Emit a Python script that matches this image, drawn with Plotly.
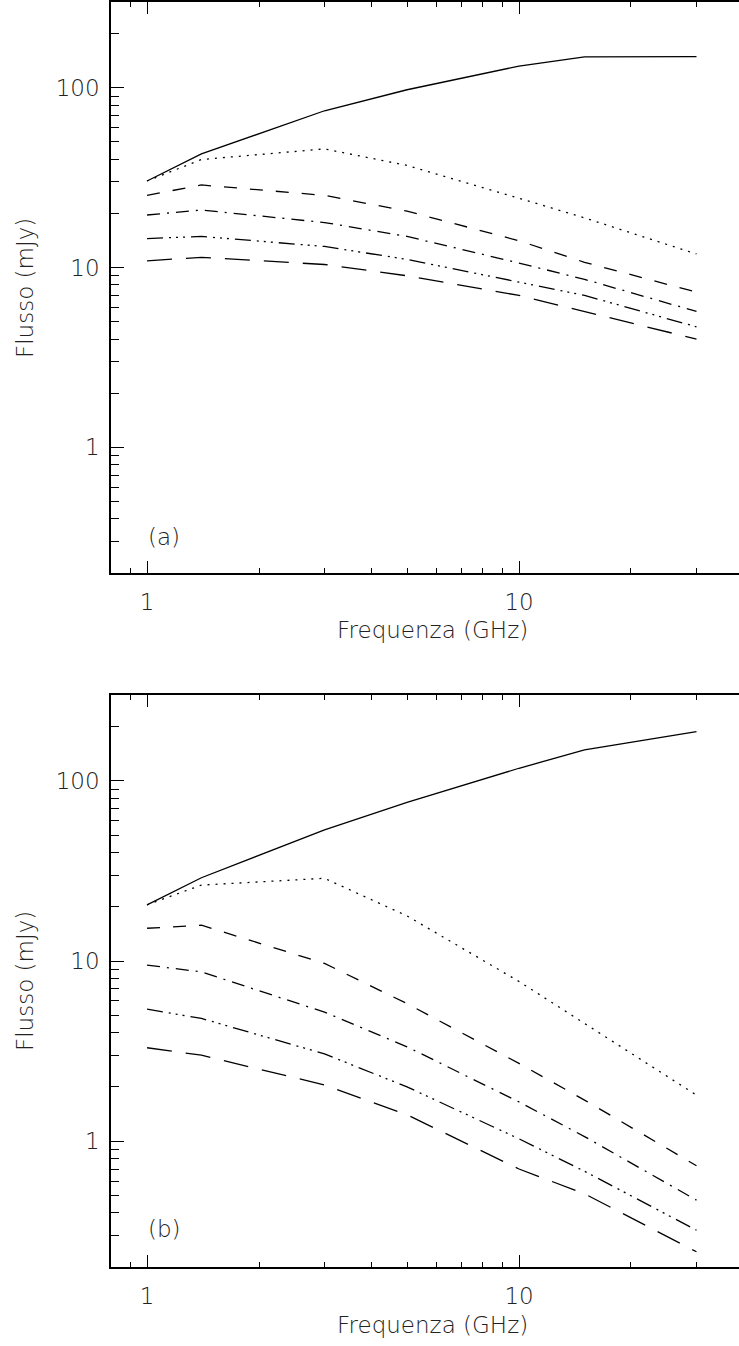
import plotly.graph_objects as go
import math

# ---- data ----
freq = [1, 1.4, 3, 5, 10, 15, 30]

a_solid   = [30.3, 42.9, 74.5, 97.5, 132, 148.5, 149]
a_dot     = [30.3, 39.9, 45.7, 37.0, 24.3, 18.9, 11.9]
a_dash    = [25.2, 28.8, 25.2, 20.6, 14.1, 10.7, 7.3]
a_dashdot = [19.6, 20.9, 17.8, 14.9, 10.6, 8.6, 5.7]
a_dash3d  = [14.5, 14.9, 13.1, 11.1, 8.3, 7.0, 4.68]
a_long    = [10.9, 11.4, 10.4, 9.0, 7.0, 5.7, 4.0]

b_solid   = [20.5, 29.0, 53.5, 76.0, 117.6, 148.6, 188]
b_dot     = [20.5, 26.4, 28.8, 17.8, 7.7, 4.5, 1.80]
b_dash    = [15.2, 15.8, 9.7, 5.8, 2.7, 1.69, 0.73]
b_dashdot = [9.5, 8.7, 5.2, 3.34, 1.65, 1.06, 0.47]
b_dash3d  = [5.4, 4.8, 3.05, 2.0, 1.03, 0.68, 0.32]
b_long    = [3.3, 3.0, 2.05, 1.40, 0.70, 0.51, 0.243]

x_major = [1, 10]
x_major_text = ["1", "10"]
x_minor = [0.9, 2, 3, 4, 5, 6, 7, 8, 9, 20, 30]
y_major = [1, 10, 100]
y_major_text = ["1", "10", "100"]
y_minor = [0.2, 0.3, 0.4, 0.5, 0.6, 0.7, 0.8, 0.9,
           2, 3, 4, 5, 6, 7, 8, 9,
           20, 30, 40, 50, 60, 70, 80, 90, 200]

x_title = "Frequenza (GHz)"
y_title = "Flusso (mJy)"
panel_labels = ["(a)", "(b)"]

# ---- style ----
W, H = 739, 1346
FONT = dict(family="DejaVu Sans, sans-serif", size=23, color="#222222", weight=200)
LW = 1.3
dashes = ["solid", "2px,6px", "13px,13px", "13px,7px,2px,7px",
          "16px,6px,2px,5px,2px,5px,2px,6px", "25px,14px"]

def px_x(p):
    return p / W

def px_y(p):
    return 1 - p / H

fig = go.Figure()

panels = [
    (dict(xa="x", ya="y"), [a_solid, a_dot, a_dash, a_dashdot, a_dash3d, a_long]),
    (dict(xa="x2", ya="y2"), [b_solid, b_dot, b_dash, b_dashdot, b_dash3d, b_long]),
]
for ax, series in panels:
    for s, d in zip(series, dashes):
        fig.add_trace(go.Scatter(x=freq, y=s, mode="lines", xaxis=ax["xa"], yaxis=ax["ya"],
                                 line=dict(color="black", width=LW, dash=d),
                                 showlegend=False, hoverinfo="skip"))

xrange = [math.log10(0.8), (739 - 147) / 372]
yrange = [math.log10(0.2), math.log10(300)]
xdom = [px_x(111), 1]
ydoms = [[px_y(573), px_y(2)], [px_y(1267), px_y(695)]]

def xaxis_cfg(anchor):
    return dict(type="log", range=xrange, domain=xdom, anchor=anchor,
                showgrid=False, zeroline=False,
                showline=True, linecolor="black", linewidth=1.5, mirror="ticks",
                ticks="inside", ticklen=12, tickwidth=1.3, tickcolor="black",
                tickmode="array", tickvals=x_major, ticktext=x_major_text,
                ticklabelstandoff=8, tickfont=FONT,
                minor=dict(tickmode="array", tickvals=x_minor, ticks="inside",
                           ticklen=5, tickwidth=1.2, tickcolor="black", showgrid=False))

def yaxis_cfg(anchor, dom):
    return dict(type="log", range=yrange, domain=dom, anchor=anchor,
                showgrid=False, zeroline=False,
                showline=True, linecolor="black", linewidth=1.5,
                ticks="inside", ticklen=13, tickwidth=1.3, tickcolor="black",
                tickmode="array", tickvals=y_major, ticktext=y_major_text,
                ticklabelstandoff=5, tickfont=FONT,
                minor=dict(tickmode="array", tickvals=y_minor, ticks="inside",
                           ticklen=8, tickwidth=1.2, tickcolor="black", showgrid=False))

def yright_cfg(anchor, overlay, dom):
    return dict(type="log", range=yrange, domain=dom, anchor=anchor, overlaying=overlay,
                side="right", showgrid=False, zeroline=False, showline=False,
                ticks="inside", ticklen=8, tickwidth=1.3, tickcolor="black",
                tickmode="array", tickvals=y_major, showticklabels=False,
                minor=dict(tickmode="array", tickvals=y_minor, ticks="inside",
                           ticklen=3, tickwidth=1.2, tickcolor="black", showgrid=False))

fig.update_layout(
    width=W, height=H,
    margin=dict(l=0, r=0, t=0, b=0),
    paper_bgcolor="white", plot_bgcolor="white",
    font=FONT,
    xaxis=xaxis_cfg("y"),
    yaxis=yaxis_cfg("x", ydoms[0]),
    xaxis2=xaxis_cfg("y2"),
    yaxis2=yaxis_cfg("x2", ydoms[1]),
    yaxis3=yright_cfg("x", "y", ydoms[0]),
    yaxis4=yright_cfg("x2", "y2", ydoms[1]),
)

annots = []
for i, (ytit, xtit, lab) in enumerate([(288, 630, 537), (981, 1325, 1229)]):
    annots.append(dict(text=y_title, textangle=-90, xref="paper", yref="paper",
                       x=px_x(25), y=px_y(ytit), showarrow=False, font=FONT,
                       xanchor="center", yanchor="middle"))
    annots.append(dict(text=x_title, xref="paper", yref="paper",
                       x=px_x(432), y=px_y(xtit), showarrow=False, font=FONT,
                       xanchor="center", yanchor="middle"))
    annots.append(dict(text=panel_labels[i], xref="paper", yref="paper",
                       x=px_x(146), y=px_y(lab), showarrow=False, font=FONT,
                       xanchor="left", yanchor="middle"))
fig.update_layout(annotations=annots)

fig.write_html("out.html")
